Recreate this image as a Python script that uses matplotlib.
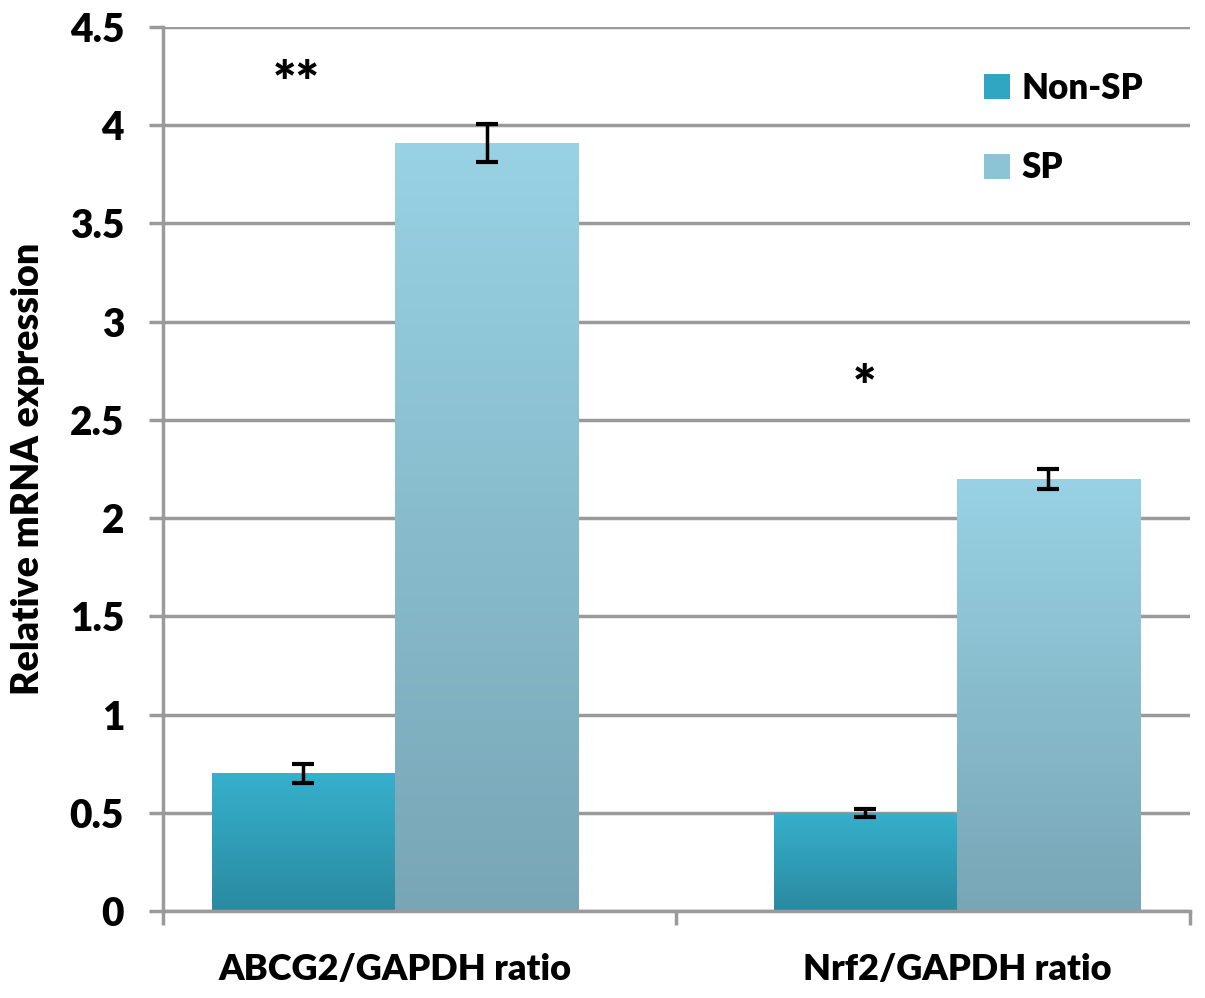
import numpy as np
import matplotlib
matplotlib.use("Agg")
import matplotlib.pyplot as plt
from matplotlib.colors import LinearSegmentedColormap
from matplotlib.patches import Patch

# data
categories = ["ABCG2/GAPDH ratio", "Nrf2/GAPDH ratio"]
non_sp = [0.70, 0.50]
non_sp_err = [0.05, 0.02]
sp = [3.91, 2.20]
sp_err = [0.095, 0.05]
stars = ["**", "*"]

plt.rcParams["font.family"] = ["Lato", "DejaVu Sans"]
plt.rcParams["font.weight"] = "heavy"

fig = plt.figure(figsize=(12.05, 9.98), dpi=100)
ax = fig.add_axes([163 / 1205, 1 - 911 / 998, (1190 - 163) / 1205, (911 - 27) / 998])

x = np.arange(len(categories))
w = 0.326

grid_c = "#9a9a9a"
ax.set_ylim(0, 4.5)
ax.set_xlim(-0.413, 1.415)
ax.set_yticks(np.arange(0, 4.51, 0.5))
ax.set_yticklabels(["0", "0.5", "1", "1.5", "2", "2.5", "3", "3.5", "4", "4.5"])
ax.yaxis.grid(True, color=grid_c, lw=2.5)
ax.set_axisbelow(True)

bars_a = ax.bar(x - w / 2, non_sp, w, color="#31a6c2", zorder=2)
bars_b = ax.bar(x + w / 2, sp, w, color="#8cc4d6", zorder=2)

# vertical gradient fills clipped to each bar
cmap_a = LinearSegmentedColormap.from_list("a", ["#2a8aa0", "#36b0cc"])
cmap_b = LinearSegmentedColormap.from_list("b", ["#78a6b6", "#98d2e4"])
grad = np.linspace(0, 1, 256).reshape(-1, 1)
for bars, cm in ((bars_a, cmap_a), (bars_b, cmap_b)):
    for b in bars:
        bx, by = b.get_x(), b.get_y()
        bw, bh = b.get_width(), b.get_height()
        b.set_facecolor("none")
        im = ax.imshow(grad, cmap=cm, origin="lower", aspect="auto",
                       extent=[bx, bx + bw, by, by + bh], zorder=2)
        im.set_clip_path(b)

ax.set_xlim(-0.413, 1.415)
ax.set_ylim(0, 4.5)

ax.errorbar(x - w / 2, non_sp, yerr=non_sp_err, fmt="none", ecolor="black",
            elinewidth=2.5, capsize=8, capthick=3, zorder=4)
ax.errorbar(x + w / 2, sp, yerr=sp_err, fmt="none", ecolor="black",
            elinewidth=2.5, capsize=8, capthick=3, zorder=4)

star_x = [-0.176, 0.836]
star_y = [4.12, 2.57]
for sx, sy, s in zip(star_x, star_y, stars):
    ax.text(sx, sy, s, ha="center", va="baseline", fontsize=40, fontweight="heavy")

for side in ("top", "right"):
    ax.spines[side].set_visible(False)
ax.spines["left"].set_color(grid_c)
ax.spines["left"].set_linewidth(2.5)
ax.spines["bottom"].set_color(grid_c)
ax.spines["bottom"].set_linewidth(2.5)

ax.set_xticks([-0.413, 0.5, 1.415])
ax.set_xticklabels([])
ax.set_xticks(x, minor=True)
ax.set_xticklabels(categories, minor=True, fontsize=26, fontweight="heavy")
ax.tick_params(axis="x", which="major", length=10, width=2.5, color=grid_c)
ax.tick_params(axis="x", which="minor", length=0, pad=30)
ax.tick_params(axis="y", length=10, width=2.5, color=grid_c, labelsize=28, pad=18)
for t in ax.get_yticklabels():
    t.set_fontweight("heavy")

ax.set_ylabel("Relative mRNA expression", fontsize=27, fontweight="heavy", labelpad=18)

handles = [Patch(facecolor="#31a6c2"), Patch(facecolor="#8cc4d6")]
ax.legend(handles, ["Non-SP", "SP"], loc="upper right", bbox_to_anchor=(0.985, 0.985),
          frameon=False, handlelength=0.75, handleheight=0.75,
          handletextpad=0.35, labelspacing=1.35, prop={"weight": "heavy", "size": 25})

fig.savefig("out.png", dpi=100)
